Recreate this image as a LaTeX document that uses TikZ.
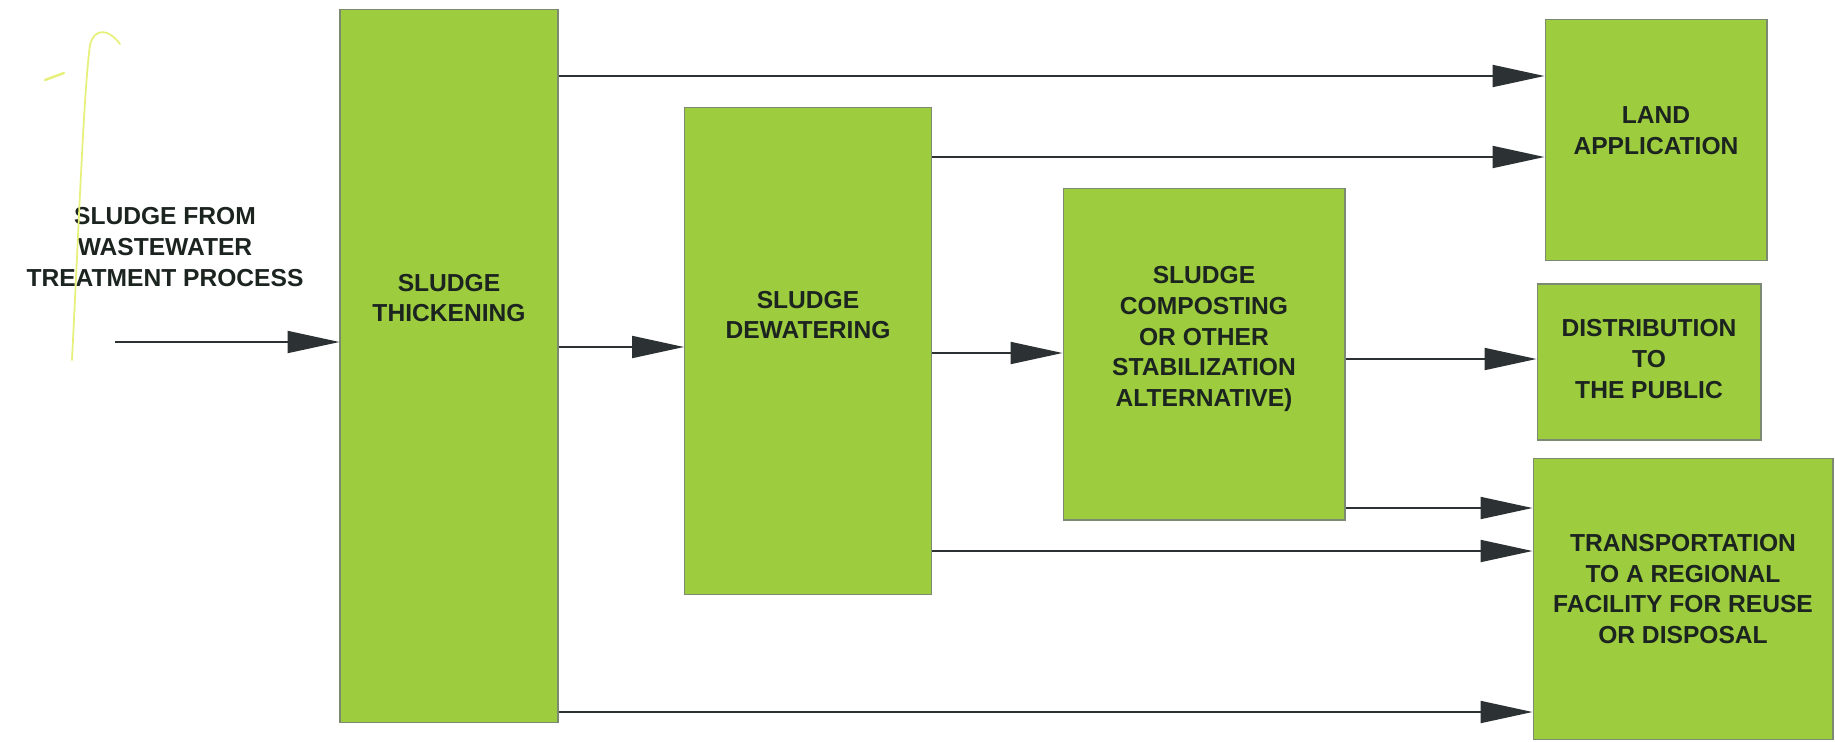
\documentclass[tikz,border=0pt]{standalone}
\usepackage{fontspec}
\setmainfont{Liberation Sans}
\usetikzlibrary{arrows.meta,calc,positioning}
\definecolor{slink}{HTML}{1C2420}
\definecolor{slgreen}{HTML}{9DCC3E}
\definecolor{sledge}{HTML}{7C8A72}
\definecolor{slarrow}{HTML}{2C3234}
\definecolor{slmark}{HTML}{E6F07A}
\tikzset{
  sl text/.style={font=\fontsize{14}{17.5}\selectfont\bfseries, text=slink},
  sl box/.style={draw=sledge, line width=0.6pt, fill=slgreen, inner sep=0pt},
  sl label/.style={font=\fontsize{14}{17.5}\selectfont\bfseries, text=slink, align=center},
  sl arrow/.style={-{Triangle[length=1.04cm,width=0.44cm]}, line width=1.1pt,
    draw=slarrow, line cap=butt}
}

\begin{document}
\begin{tikzpicture}[x=0.02cm, y=-0.02cm, sl text]
  \useasboundingbox (0,0) rectangle (1835,741);
  % boxes
  \node[sl box, minimum width=4.36cm, minimum height=14.28cm] (thick) at (449,366) {};
  \node[sl box, minimum width=4.94cm, minimum height=9.74cm] (dewat) at (808,351) {};
  \node[sl box, minimum width=5.64cm, minimum height=6.64cm] (comp) at (1204,354) {};
  \node[sl box, minimum width=4.44cm, minimum height=4.82cm] (land) at (1656,140) {};
  \node[sl box, minimum width=4.48cm, minimum height=3.12cm] (dist) at (1649,362) {};
  \node[sl box, minimum width=6.00cm, minimum height=5.62cm] (trans) at (1683,599) {};
  % labels
  \node[sl label] (src) at (165,247) {SLUDGE FROM\\WASTEWATER\\TREATMENT PROCESS};
  \node[sl label] at (449,298) {SLUDGE\\THICKENING};
  \node[sl label] at (808,315) {SLUDGE\\DEWATERING};
  \node[sl label] at (1204,339) {SLUDGE\\COMPOSTING\\OR OTHER\\STABILIZATION\\ALTERNATIVE)};
  \node[sl label] at (1656,131) {LAND\\APPLICATION};
  \node[sl label] at (1649,359) {DISTRIBUTION\\TO\\THE PUBLIC};
  \node[sl label] at (1683,589) {TRANSPORTATION\\TO A REGIONAL\\FACILITY FOR REUSE\\OR DISPOSAL};
  % pen mark
  \draw[slmark, line width=1pt, line cap=round]
    (72,360) .. controls (80,200) and (84,90) .. (90,45) .. controls (94,28) and (108,28) .. (120,44);
  \draw[slmark, line width=1.4pt, line cap=round] (45,80) -- (64,73);
  % flows
  \coordinate (in) at (115,342);
  \draw[sl arrow] (in) -- (thick.west |- in);
  \draw[sl arrow] (thick.east |- 0,347) -- (dewat.west |- 0,347);
  \draw[sl arrow] (dewat.east |- 0,353) -- (comp.west |- 0,353);
  \draw[sl arrow] (comp.east |- 0,359) -- (dist.west |- 0,359);
  \draw[sl arrow] (thick.east |- 0,76) -- (land.west |- 0,76);
  \draw[sl arrow] (dewat.east |- 0,157) -- (land.west |- 0,157);
  \draw[sl arrow] (comp.east |- 0,508) -- (trans.west |- 0,508);
  \draw[sl arrow] (dewat.east |- 0,551) -- (trans.west |- 0,551);
  \draw[sl arrow] (thick.east |- 0,712) -- (trans.west |- 0,712);
\end{tikzpicture}
\end{document}
